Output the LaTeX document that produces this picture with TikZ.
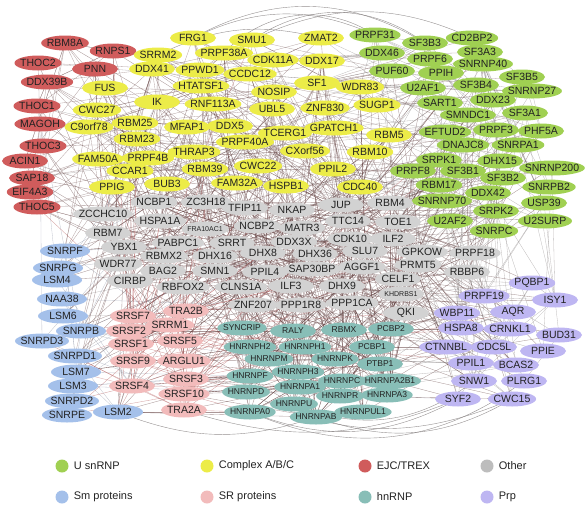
\documentclass[tikz,border=0pt]{standalone}
\usepackage{fontspec}
\setmainfont{Liberation Sans}
\usetikzlibrary{shapes.geometric,calc}
\pgfdeclarelayer{edges}
\pgfdeclarelayer{ell}
\pgfsetlayers{edges,ell,main}
\definecolor{cU}{HTML}{A0D052}
\definecolor{cA}{HTML}{ECEC48}
\definecolor{cE}{HTML}{D05C5C}
\definecolor{cO}{HTML}{D2D2D2}
\definecolor{cQ}{HTML}{D2D2D2}
\definecolor{cS}{HTML}{A4C0EA}
\definecolor{cR}{HTML}{F2BBBB}
\definecolor{cH}{HTML}{88BEB7}
\definecolor{cP}{HTML}{BEB6F2}
\definecolor{cLO}{HTML}{BDBDBD}
\definecolor{txtc}{HTML}{222222}
\definecolor{edG}{HTML}{7A7474}
\definecolor{edM}{HTML}{644242}
\definecolor{edR}{HTML}{B05454}
\definecolor{edB}{HTML}{7D8598}
\def\mrU{23pt}\def\mrA{23pt}\def\mrE{23pt}\def\mrO{23pt}\def\mrQ{23pt}
\def\mrS{25pt}\def\mrR{23pt}\def\mrH{23pt}\def\mrP{23pt}
\def\kkU{12}\def\kkA{18}\def\kkE{13}\def\kkO{30}\def\kkQ{10}
\def\kkS{11}\def\kkR{24}\def\kkH{26}\def\kkP{12}
\begin{document}
\begin{tikzpicture}[x=1pt,y=-1pt,
  lbl/.style={inner sep=0pt, text=txtc, font=\fontsize{10.5}{10.5}\selectfont},
  fU/.style={}, fA/.style={}, fE/.style={}, fO/.style={}, fS/.style={},
  fR/.style={}, fP/.style={},
  fH/.style={font=\fontsize{8.5}{8.5}\selectfont},
  fQ/.style={font=\fontsize{7}{7}\selectfont},
  eU/.style={draw=edG, line width=0.3pt, opacity=0.5},
  eA/.style={draw=edM, line width=0.3pt, opacity=0.5},
  eE/.style={draw=edM, line width=0.3pt, opacity=0.5},
  eO/.style={draw=edM, line width=0.35pt, opacity=0.55},
  eQ/.style={draw=edM, line width=0.35pt, opacity=0.55},
  eS/.style={draw=edB, line width=0.3pt, opacity=0.5},
  eR/.style={draw=edR, line width=0.35pt, opacity=0.55},
  eH/.style={draw=edM, line width=0.35pt, opacity=0.55},
  eP/.style={draw=edG, line width=0.3pt, opacity=0.5},
  arcE/.style={draw=edG, line width=0.4pt, opacity=0.8},
  legdot/.style={circle, minimum size=13pt, inner sep=0pt},
  legtxt/.style={inner sep=0pt, text=txtc, font=\fontsize{11}{11}\selectfont}]
\useasboundingbox (0,0) rectangle (586,517);
\foreach \nm/\px/\py/\g [count=\i] in {
RBM8A/65/43/E, RNPS1/113/51/E, THOC2/38/63/E, PNN/95/69/E, DDX39B/47/82/E,
THOC1/37/106/E, MAGOH/40/124/E, THOC3/43/146/E, ACIN1/25/161/E, SAP18/32/178/E,
EIF4A3/30/192/E, THOC5/37/207/E,
SRRM2/158/55/A, FRG1/193/38/A, SMU1/252/40/A, ZMAT2/321/38/A, PRPF38A/224/53/A,
CDK11A/273/60/A, DDX17/322/61/A, DDX41/152/69/A, PPWD1/200/70/A, CCDC12/250/74/A,
FUS/105/88/A, HTATSF1/201/86/A, SF1/317/83/A, WDR83/360/87/A, NOSIP/274/92/A,
IK/157/102/A, RNF113A/213/104/A, UBL5/272/109/A, ZNF830/325/108/A, SUGP1/377/105/A,
CWC27/97/110/A, C9orf78/89/127/A, RBM25/135/123/A, MFAP1/187/127/A, DDX5/230/126/A,
TCERG1/285/133/A, GPATCH1/334/128/A, RBM5/389/135/A, RBM23/137/139/A, PRPF40A/245/142/A,
THRAP3/194/152/A, CXorf56/305/151/A, RBM10/370/152/A, FAM50A/98/159/A, PRPF4B/148/158/A,
CCAR1/130/171/A, RBM39/205/169/A, CWC22/258/166/A, PPIL2/333/169/A, PPIG/112/187/A,
BUB3/167/184/A, FAM32A/237/183/A, HSPB1/286/186/A, CDC40/360/187/A,
PRPF31/375/35/U, SF3B3/425/43/U, CD2BP2/472/38/U, DDX46/382/53/U, SF3A3/480/52/U,
PRPF6/430/59/U, SNRNP40/483/64/U, PUF60/392/71/U, PPIH/441/73/U, SF3B5/522/77/U,
U2AF1/423/88/U, SF3B4/476/85/U, SNRNP27/532/91/U, SART1/440/103/U, DDX23/493/100/U,
SF3A1/525/113/U, SMNDC1/468/115/U, EFTUD2/445/132/U, PRPF3/496/130/U, PHF5A/541/131/U,
DNAJC8/463/145/U, SNRPA1/518/145/U, SRPK1/439/160/U, DHX15/500/161/U, SNRNP200/552/168/U,
PRPF8/413/171/U, SF3B1/463/171/U, SF3B2/503/178/U, RBM17/439/185/U, SNRPB2/549/187/U,
DDX42/488/193/U, SNRNP70/442/201/U, USP39/544/203/U, SRPK2/496/211/U, U2AF2/450/221/U,
U2SURP/545/221/U, SNRPC/494/231/U,
NCBP1/154/202/O, ZC3H18/206/202/O, TFIP11/245/208/O, NKAP/292/210/O, JUP/341/205/O,
RBM4/390/203/O, ZCCHC10/103/214/O, HSPA1A/160/221/O, FRA10AC1/205/229/Q, NCBP2/257/226/O,
MATR3/302/228/O, TTC14/348/221/O, TOE1/398/222/O, RBM7/108/233/O, PABPC1/178/243/O,
SRRT/232/243/O, DDX3X/294/242/O, CDK10/350/239/O, ILF2/393/239/O, YBX1/124/247/O,
RBMX2/164/256/O, DHX16/215/256/O, DHX8/263/253/O, DHX36/315/254/O, SLU7/365/251/O,
GPKOW/422/252/O, PRPF18/475/253/O, WDR77/118/264/O, BAG2/163/271/O, SMN1/215/271/O,
PPIL4/265/272/O, SAP30BP/312/269/O, AGGF1/362/267/O, PRMT5/418/265/O, RBBP6/467/272/O,
CIRBP/130/281/O, RBFOX2/183/287/O, CLNS1A/241/287/O, ILF3/291/286/O, DHX9/342/286/O,
CELF1/398/279/O, KHDRBS1/401/294/Q, ZNF207/253/305/O, PPP1R8/301/305/O, PPP1CA/352/303/O,
QKI/406/313/O,
SNRPF/65/251/S, SNRPG/58/268/S, LSM4/57/280/S, NAA38/62/299/S, LSM6/63/316/S,
SNRPB/81/331/S, SNRPD3/42/341/S, SNRPD1/75/356/S, LSM7/76/372/S, LSM3/73/386/S,
SNRPD2/72/401/S, SNRPE/67/415/S, LSM2/118/412/S,
SRSF7/133/316/R, TRA2B/186/311/R, SRRM1/170/325/R, SRSF2/129/331/R, SRSF1/131/344/R,
SRSF5/180/341/R, SRSF9/133/361/R, ARGLU1/184/361/R, SRSF3/186/379/R, SRSF4/132/386/R,
SRSF10/184/394/R, TRA2A/184/410/R,
SYNCRIP/242/328/H, RALY/293/331/H, RBMX/344/330/H, PCBP2/391/329/H, HNRNPH2/250/347/H,
HNRNPH1/305/347/H, PCBP1/372/347/H, HNRNPM/269/359/H, HNRNPK/335/359/H, PTBP1/380/364/H,
HNRNPF/250/376/H, HNRNPH3/298/372/H, HNRNPC/342/381/H, HNRNPA2B1/390/381/H, HNRNPD/246/392/H,
HNRNPA1/300/387/H, HNRNPR/340/396/H, HNRNPA3/387/395/H, HNRNPU/294/404/H, HNRNPA0/250/412/H,
HNRNPAB/316/417/H, HNRNPUL1/363/412/H,
PQBP1/532/283/P, PRPF19/484/296/P, ISY1/555/300/P, WBP11/457/313/P, AQR/513/312/P,
HSPA8/461/328/P, CRNKL1/510/329/P, BUD31/559/335/P, CTNNBL/446/347/P, CDC5L/494/347/P,
PPIE/543/351/P, PPIL1/471/363/P, BCAS2/516/365/P, SNW1/474/381/P, PLRG1/524/381/P,
SYF2/458/399/P, CWC15/512/399/P}{
  \node[lbl, f\g] (\nm) at (\px,\py) {\nm};
  \expandafter\xdef\csname nn\i\endcsname{\nm}
  \expandafter\xdef\csname nx\i\endcsname{\px}
  \expandafter\xdef\csname ny\i\endcsname{\py}
  \expandafter\xdef\csname ng\i\endcsname{\g}
  \xdef\NN{\i}
  \edef\mr{\csname mr\g\endcsname}
  \begin{pgfonlayer}{ell}
    \path[fill=c\g] let \p1=($(\nm.east)-(\nm.west)$) in
      (\nm.center) ellipse [x radius={max(0.5*\x1+5.5pt,\mr)}, y radius=7.5pt];
  \end{pgfonlayer}
}
\begin{pgfonlayer}{edges}
\pgfmathsetseed{7}
\foreach \i in {1,...,\NN}{
  \edef\gi{\csname ng\i\endcsname}
  \edef\kmax{\csname kk\gi\endcsname}
  \foreach \k in {1,...,\kmax}{
    \pgfmathrandominteger{\j}{1}{\NN}
    \pgfmathrandominteger{\r}{1}{100}
    \edef\na{\csname nn\i\endcsname}\edef\nb{\csname nn\j\endcsname}
    \edef\xa{\csname nx\i\endcsname}\edef\xb{\csname nx\j\endcsname}
    \edef\ya{\csname ny\i\endcsname}\edef\yb{\csname ny\j\endcsname}
    \pgfmathtruncatemacro\dd{abs(\xa-\xb)+abs(\ya-\yb)}
    \ifnum\dd<220\relax
      \draw[e\gi] (\na.center) -- (\nb.center);
    \else
      \ifnum\r<5\relax
        \draw[e\gi] (\na.center) -- (\nb.center);
      \fi
    \fi
  }
}
% long arcs over the top
\draw[arcE] (FRG1.center) to[bend left=30] (SF3B3.center);
\draw[arcE] (SMU1.center) to[bend left=25] (CD2BP2.center);
\draw[arcE] (PRPF38A.center) to[bend left=40] (PRPF31.center);
\draw[arcE] (FRG1.center) to[bend left=25] (PRPF31.center);
\draw[arcE] (SMU1.center) to[bend left=35] (SF3B3.center);
\draw[arcE] (SRRM2.center) to[bend left=20] (ZMAT2.center);
% long arcs under the bottom
\draw[arcE] (HNRNPA0.center) to[bend right=25] (SYF2.center);
\draw[arcE] (HNRNPAB.center) to[bend right=25] (CWC15.center);
\draw[arcE] (HNRNPU.center) to[bend right=30] (SNW1.center);
\draw[arcE] (HNRNPD.center) to[bend right=25] (CWC15.center);
\draw[arcE] (TRA2A.center) to[bend right=20] (SYF2.center);
\draw[arcE] (LSM2.center) to[bend right=20] (HNRNPAB.center);
\draw[arcE] (HNRNPA0.center) to[bend right=30] (PLRG1.center);
\end{pgfonlayer}
% legend
\node[legdot, fill=cU] (lgU) at (62,466) {};
\node[legtxt, anchor=west] (lgUt) at ([xshift=5pt]lgU.east) {U snRNP};
\node[legdot, fill=cA] (lgA) at (207,466) {};
\node[legtxt, anchor=west] (lgAt) at ([xshift=5pt]lgA.east) {Complex A/B/C};
\node[legdot, fill=cE] (lgE) at (365,466) {};
\node[legtxt, anchor=west] (lgEt) at ([xshift=5pt]lgE.east) {EJC/TREX};
\node[legdot, fill=cLO] (lgO) at (487,466) {};
\node[legtxt, anchor=west] (lgOt) at ([xshift=5pt]lgO.east) {Other};
\node[legdot, fill=cS] (lgS) at (62,497) {};
\node[legtxt, anchor=west] (lgSt) at ([xshift=5pt]lgS.east) {Sm proteins};
\node[legdot, fill=cR] (lgR) at (207,497) {};
\node[legtxt, anchor=west] (lgRt) at ([xshift=5pt]lgR.east) {SR proteins};
\node[legdot, fill=cH] (lgH) at (365,497) {};
\node[legtxt, anchor=west] (lgHt) at ([xshift=5pt]lgH.east) {hnRNP};
\node[legdot, fill=cP] (lgP) at (487,497) {};
\node[legtxt, anchor=west] (lgPt) at ([xshift=5pt]lgP.east) {Prp};
\end{tikzpicture}
\end{document}
